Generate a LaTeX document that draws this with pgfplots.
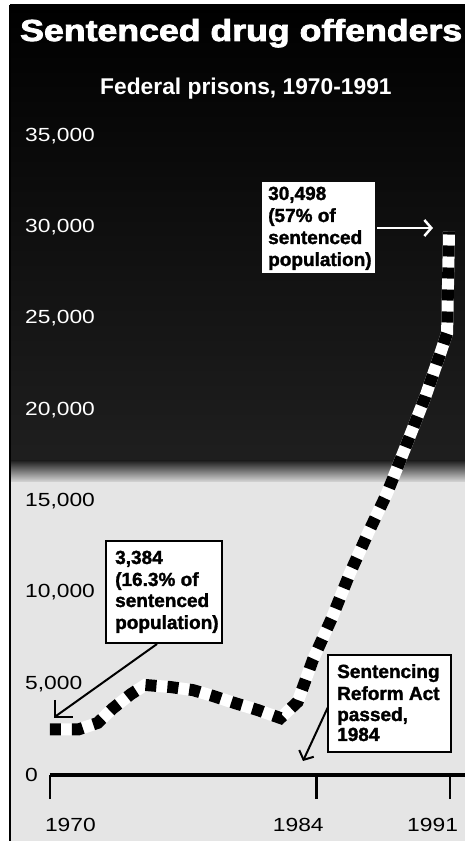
\documentclass[border=0pt]{standalone}
\usepackage{fontspec}
\usepackage{graphicx}
\usepackage{pgfplots}
\pgfplotsset{compat=1.18}
\usetikzlibrary{arrows.meta}
\setmainfont{Liberation Sans}
\newfontfamily\heavyfont{Liberation Sans Bold}[FakeBold=1.6]
\newfontfamily\blackfont{Liberation Sans Bold}[FakeBold=2.5]
\newcommand\tl[1]{\scalebox{1.2}[1]{#1}}
\newcommand\notefont{\heavyfont\fontsize{19}{21}\selectfont}

\begin{document}
\begin{tikzpicture}[x=1pt,y=1pt]
\path[use as bounding box] (0,0) rectangle (465,841);
\fill[white] (0,0) rectangle (465,841);
% dark upper panel fading into the light lower one
\shade[top color=black, bottom color=black!88] (10,380) rectangle (465,836);
\shade[top color=black!88, bottom color=black!12] (10,358) rectangle (465,380.5);
\fill[black!10] (10,0) rectangle (465,358.5);
\draw[line width=2.5pt] (10,0) -- (10,836);

\node[anchor=base west, inner sep=0, text=white] at (20,800)
  {\resizebox{442pt}{22pt}{\blackfont Sentenced drug offenders}};
\node[anchor=base west, inner sep=0, text=white, font=\bfseries\fontsize{22.8}{24}\selectfont]
  at (100,746) {Federal prisons, 1970-1991};

\begin{axis}[
  at={(50pt,66pt)}, anchor=south west,
  scale only axis, width=415pt, height=675.6pt,
  xmin=1970, xmax=1991.79, ymin=0, ymax=37000,
  axis x line*=bottom, axis y line*=left,
  y axis line style={draw=none},
  x axis line style={line width=4pt},
  clip=false,
  scaled y ticks=false,
  tick label style={font=\fontsize{19}{19}\selectfont},
  xtick={1970,1984,1991},
  xticklabels={\makebox[0pt][l]{\hspace{-5pt}\tl{1970}},
               \makebox[0pt][r]{\tl{1984}\hspace{-7pt}},
               \makebox[0pt][r]{\tl{1991}\hspace{-8pt}}},
  tick align=outside, major tick length=24pt,
  xtick style={line width=2.5pt, black},
  xticklabel style={anchor=north, inner sep=0pt, yshift=-19pt},
  ytick={0,5000,10000,15000,20000,25000,30000,35000},
  yticklabels={\tl{0},\tl{5,000},\tl{10,000},\tl{15,000},
               \textcolor{white}{\tl{20,000}},\textcolor{white}{\tl{25,000}},
               \textcolor{white}{\tl{30,000}},\textcolor{white}{\tl{35,000}}},
  ytick style={draw=none},
  yticklabel style={anchor=west, inner sep=0pt, xshift=-1pt},
]
\addplot[white, line width=12pt] coordinates {
  (1970,2500)(1971.5,2500)(1972.5,2850)(1973.3,3650)(1974.25,4430)(1975,4930)
  (1976.3,4820)(1977.5,4650)(1978.55,4330)(1979.7,3940)(1980.9,3560)(1982.1,3120)
  (1983,4000)(1983.8,6300)(1984.8,8600)(1985.75,11060)(1986.7,13250)(1987.7,15440)
  (1988.75,18180)(1989.7,20700)(1990.5,23110)(1990.85,24200)(1990.95,29750)
};
\addplot[black, line width=12pt, dash pattern=on 11pt off 11pt] coordinates {
  (1970,2500)(1971.5,2500)(1972.5,2850)(1973.3,3650)(1974.25,4430)(1975,4930)
  (1976.3,4820)(1977.5,4650)(1978.55,4330)(1979.7,3940)(1980.9,3560)(1982.1,3120)
  (1983,4000)(1983.8,6300)(1984.8,8600)(1985.75,11060)(1986.7,13250)(1987.7,15440)
  (1988.75,18180)(1989.7,20700)(1990.5,23110)(1990.85,24200)(1990.95,29750)
};
\end{axis}

% note: 1991 value
\fill[white] (262,568) rectangle (375,659);
\node[anchor=base west, inner sep=0, font=\notefont] at (268,641) {30,498};
\node[anchor=base west, inner sep=0, font=\notefont] at (268,619) {(57\% of};
\node[anchor=base west, inner sep=0, font=\notefont] at (268,597) {sentenced};
\node[anchor=base west, inner sep=0, font=\notefont] at (268,575) {population)};
\draw[white, line width=2pt, -{Straight Barb[length=7pt, width=16pt, line width=2.5pt]}]
  (377,613) -- (433,613);

% note: 1970 value
\draw[line width=2pt, fill=white] (106,198) rectangle (222,300);
\node[anchor=base west, inner sep=0, font=\notefont] at (115,277) {3,384};
\node[anchor=base west, inner sep=0, font=\notefont] at (115,255) {(16.3\% of};
\node[anchor=base west, inner sep=0, font=\notefont] at (115,234) {sentenced};
\node[anchor=base west, inner sep=0, font=\notefont] at (115,212) {population)};
\draw[line width=2pt] (157,197) -- (56,125);
\draw[line width=2pt] (55,141) -- (55,124) -- (73,124);

% note: reform act
\draw[line width=2.5pt, fill=white] (328,89) rectangle (451,186);
\node[anchor=base west, inner sep=0, font=\notefont] at (337,163) {Sentencing};
\node[anchor=base west, inner sep=0, font=\notefont] at (337,141) {Reform Act};
\node[anchor=base west, inner sep=0, font=\notefont] at (337,120) {passed,};
\node[anchor=base west, inner sep=0, font=\notefont] at (337,100) {1984};
\draw[line width=2pt, -{Straight Barb[length=7pt, width=16pt, line width=2pt]}]
  (328,134) -- (303,80);
\end{tikzpicture}
\end{document}
